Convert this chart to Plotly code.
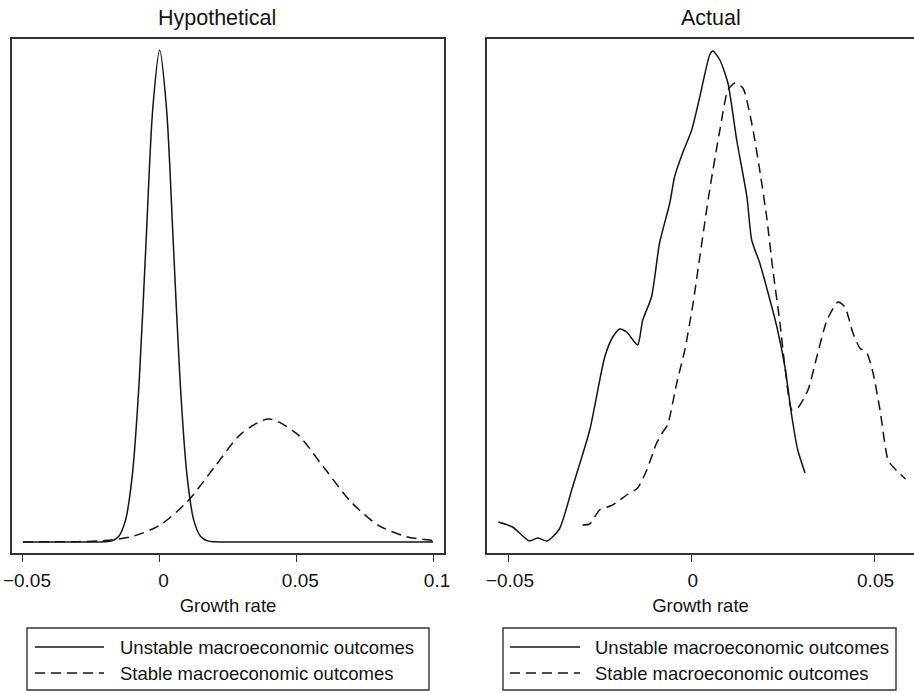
import plotly.graph_objects as go

# ---------------- data ----------------
# Hypothetical panel
hyp_unstable_x = [-0.05, -0.03, -0.02, -0.0175, -0.015, -0.0125, -0.01, -0.0075, -0.005, -0.0025, 0.0,
                  0.0025, 0.005, 0.0075, 0.01, 0.0125, 0.015, 0.0175, 0.02, 0.03, 0.1]
hyp_unstable_y = [0.0, 0.0, 0.027, 0.175, 0.89, 3.50, 10.8, 25.9, 48.4, 70.4, 79.8,
                  70.4, 48.4, 25.9, 10.8, 3.50, 0.89, 0.175, 0.027, 0.0, 0.0]

hyp_stable_x = [-0.05, -0.04, -0.03, -0.02, -0.01, 0.0, 0.01, 0.02, 0.03, 0.04,
                0.05, 0.06, 0.07, 0.08, 0.09, 0.1]
hyp_stable_y = [0.0008, 0.0067, 0.044, 0.22, 0.88, 2.70, 6.48, 12.10, 17.61, 19.95,
                17.61, 12.10, 6.48, 2.70, 0.88, 0.22]

# Actual panel
act_unstable_x = [-0.0529, -0.0490, -0.0444, -0.0422, -0.0395, -0.0362, -0.0326, -0.0279, -0.0238,
                  -0.0216, -0.0197, -0.0178, -0.0148, -0.0134, -0.0110, -0.0088, -0.0060, -0.0047,
                  -0.0025, 0.0, 0.0022, 0.0049, 0.0058, 0.0077, 0.0099, 0.0123, 0.0151, 0.0164,
                  0.0186, 0.0214, 0.0233, 0.0255, 0.0274, 0.0290, 0.0310]
act_unstable_y = [1.55, 1.30, 0.60, 0.75, 0.60, 1.20, 3.30, 6.15, 9.80,
                  10.80, 11.20, 11.05, 10.40, 11.65, 12.80, 15.50, 17.50, 18.80,
                  20.00, 21.15, 22.80, 24.90, 25.10, 24.65, 23.50, 20.65, 17.80, 15.65,
                  14.50, 12.65, 11.30, 9.30, 6.80, 5.15, 4.00]

act_stable_x = [-0.0299, -0.0279, -0.0252, -0.0216, -0.0178, -0.0148, -0.0123, -0.0096, -0.0079,
                -0.0066, -0.0041, -0.0019, 0.0003, 0.0022, 0.0049, 0.0077, 0.0099, 0.0118,
                0.0140, 0.0164, 0.0186, 0.0205, 0.0222, 0.0241, 0.0255, 0.0274, 0.0290,
                0.0318, 0.0342, 0.0370, 0.0400, 0.0419, 0.0441, 0.0460, 0.0479, 0.0496,
                0.0515, 0.0537, 0.0551, 0.0570, 0.0585]
act_stable_y = [1.40, 1.45, 2.15, 2.40, 2.90, 3.25, 4.15, 5.50, 6.05,
                6.40, 8.50, 10.15, 12.40, 14.80, 18.15, 21.15, 23.15, 23.50,
                23.25, 21.50, 19.15, 16.80, 14.15, 11.55, 9.30, 7.15, 7.25,
                8.15, 9.80, 11.65, 12.55, 12.30, 11.00, 10.25, 10.00, 9.00,
                7.15, 4.65, 4.30, 3.95, 3.70]

hyp_ticks = [-0.05, 0.0, 0.05, 0.1]
hyp_ticktext = ["\u22120.05", "0", "0.05", "0.1"]
act_ticks = [-0.05, 0.0, 0.05]
act_ticktext = ["\u22120.05", "0", "0.05"]

panel_titles = ["Hypothetical", "Actual"]
x_title = "Growth rate"
series_names = ["Unstable macroeconomic outcomes", "Stable macroeconomic outcomes"]

# ---------------- figure ----------------
W, H = 914, 693
INK = "#141414"
FRAME = "#333333"
FONT = "Liberation Sans, Arial, Helvetica, sans-serif"
DASH = "10px,6px"

def px_x(p):
    return p / W

def px_y(p):
    return 1 - p / H

fig = go.Figure()

fig.add_trace(go.Scatter(x=hyp_unstable_x, y=hyp_unstable_y, mode="lines", name=series_names[0],
                         line=dict(color=INK, width=1.5, shape="spline", smoothing=0.8),
                         xaxis="x", yaxis="y", showlegend=False))
fig.add_trace(go.Scatter(x=hyp_stable_x, y=hyp_stable_y, mode="lines", name=series_names[1],
                         line=dict(color=INK, width=1.5, dash=DASH, shape="spline", smoothing=0.8),
                         xaxis="x", yaxis="y", showlegend=False))
fig.add_trace(go.Scatter(x=act_unstable_x, y=act_unstable_y, mode="lines", name=series_names[0],
                         line=dict(color=INK, width=1.5, shape="spline", smoothing=0.6),
                         xaxis="x2", yaxis="y2", showlegend=False))
fig.add_trace(go.Scatter(x=act_stable_x, y=act_stable_y, mode="lines", name=series_names[1],
                         line=dict(color=INK, width=1.5, dash=DASH, shape="spline", smoothing=0.6),
                         xaxis="x2", yaxis="y2", showlegend=False))

axis_common = dict(showline=True, linecolor=FRAME, linewidth=1.5, automargin=False,
                   showgrid=False, zeroline=False)
xaxis_common = dict(axis_common, mirror=True, ticks="outside", ticklen=7, tickwidth=1.4, tickcolor=FRAME,
                    ticklabelstandoff=2, ticklabeloverflow="allow",
                    tickfont=dict(family=FONT, size=19, color=INK),
                    title=dict(text=x_title, font=dict(family=FONT, size=18.5, color=INK), standoff=10))
yaxis_common = dict(axis_common, showticklabels=False, ticks="")

ydom = [1 - 553 / H, 1 - 39 / H]

fig.update_layout(
    width=W, height=H,
    margin=dict(l=0, r=0, t=0, b=0, pad=0, autoexpand=False),
    paper_bgcolor="white", plot_bgcolor="white",
    font=dict(family=FONT, color=INK),
    showlegend=False,
    xaxis=dict(xaxis_common, domain=[px_x(12), px_x(444)], range=[-0.054, 0.104],
               tickvals=hyp_ticks, ticktext=hyp_ticktext, ticklabelshift=4, anchor="y"),
    yaxis=dict(yaxis_common, mirror=True, domain=ydom, range=[-1.8, 81.6], anchor="x"),
    xaxis2=dict(xaxis_common, domain=[px_x(487), 1.0], range=[-0.056, 0.0608],
                tickvals=act_ticks, ticktext=act_ticktext, ticklabelshift=1, anchor="y2"),
    yaxis2=dict(yaxis_common, mirror=False, domain=ydom, range=[0, 25.7], anchor="x2"),
)

# panel titles
for txt, cx in zip(panel_titles, [217, 711]):
    fig.add_annotation(text=txt, x=px_x(cx), y=px_y(18), xref="paper", yref="paper",
                       showarrow=False, xanchor="center", yanchor="middle",
                       font=dict(family=FONT, size=21.5, color=INK))

# legend boxes (one per panel)
legend_boxes = [
    dict(x0=27, x1=429, line_x0=35, line_x1=104, text_x=118),
    dict(x0=503, x1=896, line_x0=510, line_x1=580, text_x=593),
]
row_y = [647, 673]
for box in legend_boxes:
    fig.add_shape(type="rect", xref="paper", yref="paper",
                  x0=px_x(box["x0"]), x1=px_x(box["x1"]), y0=px_y(690), y1=px_y(628),
                  line=dict(color=FRAME, width=1.4), fillcolor="rgba(0,0,0,0)")
    for i, (name, ry) in enumerate(zip(series_names, row_y)):
        fig.add_shape(type="line", xref="paper", yref="paper",
                      x0=px_x(box["line_x0"]), x1=px_x(box["line_x1"]), y0=px_y(ry), y1=px_y(ry),
                      line=dict(color=INK, width=1.5, dash="solid" if i == 0 else DASH))
        fig.add_annotation(text=name, x=px_x(box["text_x"]), y=px_y(ry), xref="paper", yref="paper",
                           showarrow=False, xanchor="left", yanchor="middle",
                           font=dict(family=FONT, size=18.5, color=INK))

fig.write_html("out.html", config={"displayModeBar": False},
               post_script="document.body.style.margin='0';document.body.style.overflow='hidden';")
